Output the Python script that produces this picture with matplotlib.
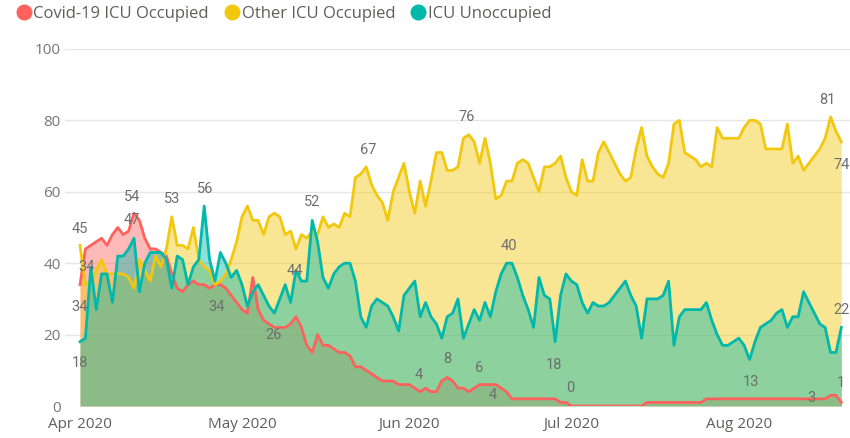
import pandas as pd
import matplotlib
matplotlib.use('Agg')
import matplotlib.pyplot as plt
import matplotlib.dates as mdates
from matplotlib.lines import Line2D

dates = pd.date_range('2020-04-01', periods=142, freq='D')

covid_icu = [
    34, 44, 45, 46, 47, 45, 48, 50, 48, 49,
    54, 52, 47, 44, 44, 43, 42, 37, 33, 32,
    34, 35, 34, 34, 33, 34, 34, 33, 31, 29,
    27, 26, 36, 27, 24, 23, 22, 22, 22, 23,
    25, 22, 17, 15, 20, 17, 17, 16, 15, 15,
    14, 11, 11, 10, 9, 8, 7, 7, 7, 6,
    6, 6, 5, 4, 5, 4, 4, 7, 8, 7,
    5, 5, 4, 5, 6, 6, 6, 6, 5, 4,
    2, 2, 2, 2, 2, 2, 2, 2, 2, 1,
    1, 0, 0, 0, 0, 0, 0, 0, 0, 0,
    0, 0, 0, 0, 0, 1, 1, 1, 1, 1,
    1, 1, 1, 1, 1, 1, 2, 2, 2, 2,
    2, 2, 2, 2, 2, 2, 2, 2, 2, 2,
    2, 2, 2, 2, 2, 2, 2, 2, 2, 3,
    3, 1,
]

other_icu = [
    45, 34, 35, 38, 41, 37, 37, 37, 37, 36,
    33, 41, 38, 35, 42, 39, 44, 53, 45, 45,
    44, 50, 41, 39, 38, 34, 35, 37, 41, 46,
    53, 56, 52, 52, 48, 53, 54, 53, 48, 49,
    44, 48, 47, 49, 48, 53, 50, 51, 50, 54,
    53, 64, 65, 67, 62, 59, 57, 52, 60, 64,
    68, 60, 54, 63, 56, 63, 71, 71, 66, 66,
    67, 75, 76, 74, 68, 75, 68, 58, 59, 63,
    63, 68, 69, 68, 64, 60, 67, 67, 68, 70,
    64, 60, 59, 69, 63, 63, 71, 74, 71, 68,
    65, 63, 64, 72, 78, 70, 67, 65, 64, 68,
    79, 80, 71, 70, 69, 67, 68, 67, 78, 75,
    75, 75, 75, 78, 80, 80, 79, 72, 72, 72,
    72, 79, 68, 70, 66, 68, 70, 72, 75, 81,
    77, 74,
]

icu_unoccupied = [
    18, 19, 39, 27, 37, 37, 29, 42, 42, 44,
    47, 32, 40, 43, 43, 43, 41, 33, 42, 41,
    34, 39, 41, 56, 41, 35, 43, 40, 36, 38,
    34, 28, 32, 34, 31, 28, 26, 30, 34, 29,
    38, 35, 35, 52, 46, 36, 33, 37, 39, 40,
    40, 35, 25, 22, 28, 30, 29, 28, 25, 21,
    31, 33, 35, 25, 29, 25, 23, 19, 25, 26,
    30, 19, 23, 27, 24, 29, 25, 32, 37, 40,
    40, 36, 31, 27, 22, 36, 31, 30, 18, 31,
    37, 35, 34, 29, 26, 29, 28, 28, 29, 31,
    33, 35, 31, 28, 19, 30, 30, 30, 31, 35,
    17, 25, 27, 27, 27, 27, 29, 24, 20, 17,
    17, 18, 19, 17, 13, 18, 22, 23, 24, 26,
    27, 22, 25, 25, 32, 29, 26, 23, 22, 15,
    15, 22,
]

series = [covid_icu, other_icu, icu_unoccupied]
names = ['Covid-19 ICU Occupied', 'Other ICU Occupied', 'ICU Unoccupied']
colors = ['#fd625e', '#f2c80f', '#01b8aa']

# data labels: (series, day index, x offset px, y offset px)
point_labels = [
    (1, 0, 0, 16), (1, 1, 1, 18), (0, 0, 0, -22), (2, 0, 0, -21),
    (0, 10, -2, 16), (2, 10, -2, 18), (1, 17, 0, 18), (2, 23, 1, 17),
    (0, 25, 2, -22), (2, 36, -1, -22), (1, 40, -1, -22), (2, 43, 0, 18),
    (1, 53, 2, 17), (0, 63, -1, 17), (0, 68, 0, 18), (1, 72, -2, 18),
    (0, 74, 0, 17), (0, 79, -14, -3), (2, 80, -3, 17), (2, 88, -1, -23),
    (0, 91, -1, 18), (2, 124, 1, -22), (0, 139, -19, -3), (0, 141, 0, 19),
    (1, 139, -3, 17), (1, 141, 0, -23), (2, 141, 0, 17),
]

fig = plt.figure(figsize=(8.5, 4.38), dpi=100)
ax = fig.add_axes([65 / 850, 32 / 438, 785 / 850, 357 / 438])

# areas overlap (not stacked), each one translucent
for vals, c in zip(series, colors):
    ax.fill_between(dates, vals, color=c, alpha=0.44, lw=0, zorder=2)
for vals, c in zip(series, colors):
    ax.plot(dates, vals, color=c, lw=2.0, zorder=3)

for s, i, dx, dy in point_labels:
    v = series[s][i]
    ax.annotate(str(v), (dates[i], v), xytext=(dx, dy), textcoords='offset pixels',
                ha='center', va='center', fontsize=10.5, color='#6e6e6e',
                family='Roboto', zorder=5, annotation_clip=False)

ax.set_xlim(dates[0] - pd.Timedelta(days=2.78), dates[0] + pd.Timedelta(days=142.6))
ax.set_ylim(0, 100)
ax.set_yticks([0, 20, 40, 60, 80, 100])
ax.grid(axis='y', color='#e6e6e6', lw=1, zorder=0)
ax.set_axisbelow(True)
for sp in ax.spines.values():
    sp.set_visible(False)

ax.xaxis.set_major_locator(mdates.MonthLocator())
ax.xaxis.set_major_formatter(mdates.DateFormatter('%b %Y'))
ax.tick_params(axis='x', length=0, pad=8, labelsize=11, labelcolor='#605e5c')
ax.tick_params(axis='y', length=0, pad=3, labelsize=11, labelcolor='#777777')
for lab in ax.get_xticklabels() + ax.get_yticklabels():
    lab.set_family('Open Sans')

handles = [Line2D([], [], marker='o', ls='none', markersize=10.5,
                  markerfacecolor=c, markeredgecolor=c) for c in colors]
fig.legend(handles, names, loc='center left', bbox_to_anchor=(16 / 850, 1 - 14 / 438),
           ncol=3, frameon=False, handletextpad=0.05, columnspacing=0.9,
           handlelength=1.0, borderaxespad=0, borderpad=0,
           labelcolor='#605e5c', prop={'family': 'Open Sans', 'size': 12})

fig.savefig('out.png', dpi=100)
